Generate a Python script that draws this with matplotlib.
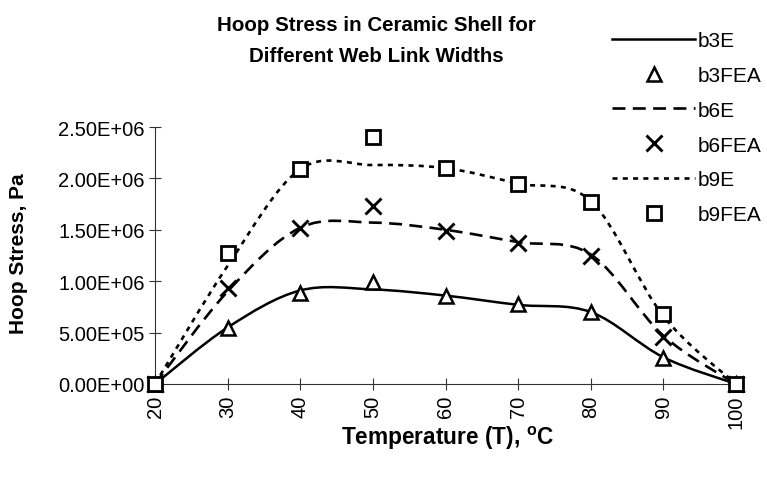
import matplotlib
matplotlib.use("Agg")
import matplotlib.pyplot as plt
from matplotlib.path import Path
from matplotlib.patches import PathPatch
from matplotlib.lines import Line2D

plt.rcParams['font.family'] = ['Liberation Sans', 'DejaVu Sans']
plt.rcParams['mathtext.fontset'] = 'custom'
plt.rcParams['mathtext.rm'] = 'Liberation Sans:bold'
plt.rcParams['mathtext.bf'] = 'Liberation Sans:bold'

# Temperature categories (deg C)
temperature = [20, 30, 40, 50, 60, 70, 80, 90, 100]

# Hoop stress, Pa
b3E   = [0, 0.55e6, 0.91e6, 0.92e6, 0.86e6, 0.77e6, 0.70e6, 0.26e6, 0]
b3FEA = [0, 0.54e6, 0.89e6, 0.99e6, 0.86e6, 0.78e6, 0.70e6, 0.25e6, 0]
b6E   = [0, 0.90e6, 1.52e6, 1.57e6, 1.50e6, 1.38e6, 1.26e6, 0.47e6, 0]
b6FEA = [0, 0.93e6, 1.52e6, 1.73e6, 1.49e6, 1.37e6, 1.25e6, 0.46e6, 0]
b9E   = [0, 1.15e6, 2.09e6, 2.13e6, 2.10e6, 1.95e6, 1.78e6, 0.66e6, 0]
b9FEA = [0, 1.27e6, 2.09e6, 2.40e6, 2.10e6, 1.95e6, 1.77e6, 0.68e6, 0]

y_ticks = [0, 0.5e6, 1.0e6, 1.5e6, 2.0e6, 2.5e6]
y_tick_labels = ["0.00E+00", "5.00E+05", "1.00E+06", "1.50E+06", "2.00E+06", "2.50E+06"]
x_tick_labels = ["20", "30", "40", "50", "60", "70", "80", "90", "100"]


def smooth_path(xs, ys):
    """Cubic Bezier path through the points (spreadsheet-style smoothed line)."""
    pts = list(zip(xs, ys))
    n = len(pts)
    verts = [pts[0]]
    codes = [Path.MOVETO]
    for i in range(n - 1):
        p0 = pts[i - 1] if i > 0 else pts[i]
        p1 = pts[i]
        p2 = pts[i + 1]
        p3 = pts[i + 2] if i + 2 < n else pts[i + 1]
        c1 = (p1[0] + (p2[0] - p0[0]) / 6.0, p1[1] + (p2[1] - p0[1]) / 6.0)
        c2 = (p2[0] - (p3[0] - p1[0]) / 6.0, p2[1] - (p3[1] - p1[1]) / 6.0)
        verts += [c1, c2, p2]
        codes += [Path.CURVE4] * 3
    return Path(verts, codes)


W, H = 767, 481
fig = plt.figure(figsize=(W / 100, H / 100), dpi=100)
ax = fig.add_axes([155 / W, 1 - 385 / H, (736 - 155) / W, (385 - 128) / H])

line_styles = {
    'b3E': dict(linestyle='-', linewidth=1.8),
    'b6E': dict(linestyle=(0, (4.9, 2.8)), linewidth=1.9),
    'b9E': dict(linestyle=(0, (1.9, 2.0)), linewidth=1.9),
}
marker_styles = {
    'b3FEA': dict(marker='^', markersize=10.5, markeredgewidth=1.8),
    'b6FEA': dict(marker='x', markersize=11.5, markeredgewidth=2.1),
    'b9FEA': dict(marker='s', markersize=9.5, markeredgewidth=2.0),
}

series = [('b3E', b3E), ('b3FEA', b3FEA), ('b6E', b6E),
          ('b6FEA', b6FEA), ('b9E', b9E), ('b9FEA', b9FEA)]

handles = []
for name, vals in series:
    if name in line_styles:
        st = line_styles[name]
        patch = PathPatch(smooth_path(temperature, vals), facecolor='none',
                          edgecolor='black', capstyle='butt', joinstyle='round',
                          clip_on=False, zorder=3, **st)
        ax.add_patch(patch)
        handles.append(Line2D([], [], color='black', dash_capstyle='butt', **st))
    else:
        st = marker_styles[name]
        ax.plot(temperature, vals, linestyle='none', color='black',
                markerfacecolor='white', markeredgecolor='black',
                clip_on=False, zorder=4, **st)
        handles.append(Line2D([], [], linestyle='none', color='black',
                              markerfacecolor='white', markeredgecolor='black', **st))

ax.set_xlim(20, 100)
ax.set_ylim(0, 2.5e6)
ax.set_xticks(temperature)
ax.set_xticklabels(x_tick_labels, rotation=90, fontsize=14.5)
ax.set_yticks(y_ticks)
ax.set_yticklabels(y_tick_labels, fontsize=14.5)

for s in ('top', 'right'):
    ax.spines[s].set_visible(False)
for s in ('left', 'bottom'):
    ax.spines[s].set_linewidth(0.8)
    ax.spines[s].set_color('#333333')
ax.tick_params(axis='both', direction='inout', length=8, width=0.8, color='#333333')
ax.tick_params(axis='y', pad=3.5)
ax.tick_params(axis='x', pad=4)

fig.text(19 / W, 1 - 254 / H, 'Hoop Stress, Pa', rotation=90,
         fontsize=15, fontweight='bold', ha='center', va='center')

fig.text(447 / W, 1 - 438 / H, r'Temperature (T), $^{\mathrm{o}}$C',
         fontsize=16.3, fontweight='bold', ha='center', va='center')

fig.text(376 / W, 1 - 41 / H,
         'Hoop Stress in Ceramic Shell for\nDifferent Web Link Widths',
         fontsize=14.8, fontweight='bold', ha='center', va='center', linespacing=1.85)

fig.legend(handles, [n for n, _ in series], loc='upper left',
           bbox_to_anchor=(612 / W, 1 - 32 / H), bbox_transform=fig.transFigure,
           frameon=False, fontsize=15, handlelength=4.0, handletextpad=0.1,
           labelspacing=0.76, borderpad=0, borderaxespad=0)

fig.savefig('out.png', dpi=100, facecolor='white')
